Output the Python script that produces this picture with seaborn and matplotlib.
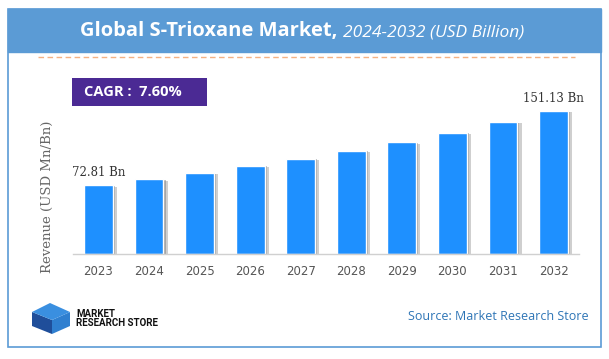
import matplotlib
matplotlib.use("Agg")
import matplotlib.pyplot as plt
import matplotlib.patheffects as pe
from matplotlib.patches import Rectangle, Polygon
from matplotlib.lines import Line2D
import seaborn as sns

sns.set_theme(style="white")
plt.rcParams['font.family'] = ['DejaVu Sans']

# data
years = ['2023', '2024', '2025', '2026', '2027', '2028', '2029', '2030', '2031', '2032']
revenue = [72.81, 78.9, 85.6, 93.5, 100.9, 109.2, 118.2, 128.3, 139.6, 151.13]
first_label = '72.81 Bn'
last_label = '151.13 Bn'
cagr_text = 'CAGR :  7.60%'

W, H = 609, 359


def px(x, y):
    # pixel position (from top-left) -> figure fraction
    return x / W, 1 - y / H


fig = plt.figure(figsize=(W / 100, H / 100), dpi=100)
fig.patch.set_facecolor('white')

# frame + title band
frame_blue = '#5B9BD5'
fig.patches.append(Rectangle(px(8.3, 347.3), (601 - 8.3) / W, (347.3 - 9.3) / H,
                             transform=fig.transFigure, facecolor='none',
                             edgecolor=frame_blue, lw=1.2, zorder=0))
fig.patches.append(Rectangle(px(8.3, 51.7), (601 - 8.3) / W, (51.7 - 9.3) / H,
                             transform=fig.transFigure, facecolor=frame_blue,
                             edgecolor=frame_blue, lw=1, zorder=0))
fig.text(*px(338, 31), 'Global S-Trioxane Market,', ha='right', va='center',
         color='white', fontsize=14.5, fontweight='bold', family='Open Sans')
fig.text(*px(343, 32.5), '2024-2032 (USD Billion)', ha='left', va='center',
         color='white', fontsize=12.5, style='italic', family='Open Sans')

# dashed orange rule
fig.lines.append(Line2D([37.7 / W, 575 / W], [1 - 57.3 / H, 1 - 57.3 / H],
                        transform=fig.transFigure, color='#F4B183', lw=1,
                        linestyle=(0, (4, 2.5))))

# CAGR box
fig.patches.append(Rectangle(px(72, 105.7), (207 - 72) / W, (105.7 - 78.3) / H,
                             transform=fig.transFigure, facecolor='#4B2A94',
                             edgecolor='none'))
fig.text(*px(84, 92.5), cagr_text, ha='left', va='center', color='white',
         fontsize=10.5, fontweight='bold', family='Open Sans')

# bar chart
ax = fig.add_axes([73.2 / W, 1 - 254 / H, 505.6 / W, 154 / H])
sns.barplot(x=years, y=revenue, color='#1E90FF', width=0.57,
            saturation=1, ax=ax)
for p in ax.patches:
    p.set_path_effects([pe.SimplePatchShadow(offset=(3, -1), shadow_rgbFace='#888888', alpha=0.4),
                        pe.SimplePatchShadow(offset=(1.5, -0.5), shadow_rgbFace='#666666', alpha=0.4),
                        pe.Normal()])
ax.set_xlim(-0.5, 9.5)
ax.set_ylim(0, 162.8)
ax.set_facecolor('none')
for s in ['top', 'right', 'left']:
    ax.spines[s].set_visible(False)
ax.spines['bottom'].set_color('#d0d0d0')
ax.spines['bottom'].set_linewidth(1)
ax.set_yticks([])
ax.tick_params(axis='x', length=0, pad=8, labelsize=8.5, labelcolor='#555555')
ax.set_xlabel('')
ax.set_ylabel('')

ax.annotate(first_label, (0, revenue[0]), xytext=(0, 13), textcoords='offset pixels',
            ha='center', va='center', fontsize=8.5, family='DejaVu Serif', color='#333333')
ax.annotate(last_label, (9, revenue[-1]), xytext=(0, 13), textcoords='offset pixels',
            ha='center', va='center', fontsize=8.5, family='DejaVu Serif', color='#333333')

fig.text(*px(47, 197), 'Revenue (USD Mn/Bn)', rotation=90, ha='center', va='center',
         fontsize=9.5, family='DejaVu Serif', color='#666666')

# logo (simple mark)
dark = '#1F4E9A'
light = '#2F7FD0'
cube_side = Polygon([px(32, 312), px(52, 320), px(52, 334), px(32, 326)], closed=True,
                    transform=fig.transFigure, facecolor=dark, edgecolor='none')
cube_front = Polygon([px(52, 320), px(70, 312), px(70, 326), px(52, 334)], closed=True,
                     transform=fig.transFigure, facecolor=light, edgecolor='none')
cube_top = Polygon([px(32, 312), px(50, 303), px(70, 312), px(52, 320)], closed=True,
                   transform=fig.transFigure, facecolor='#3A8FE0', edgecolor='none')
for poly in (cube_side, cube_front, cube_top):
    fig.patches.append(poly)
fig.text(*px(76, 314), 'MARKET', ha='left', va='center', fontsize=7,
         fontweight='bold', color='#111111', family='Roboto')
fig.text(*px(76, 323.5), 'RESEARCH STORE', ha='left', va='center', fontsize=7,
         fontweight='bold', color='#111111', family='Roboto')

fig.text(*px(589, 317), 'Source: Market Research Store', ha='right', va='center',
         fontsize=9, color='#2E75B6', family='Open Sans')

fig.savefig('out.png', dpi=100)
